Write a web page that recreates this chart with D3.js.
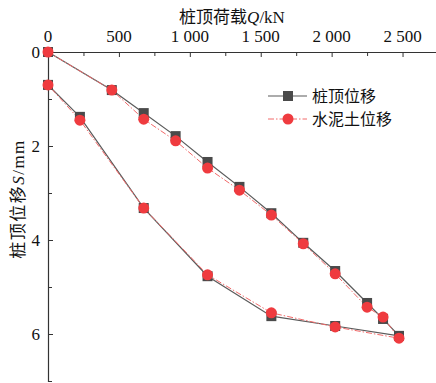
<!DOCTYPE html>
<html>
<head>
<meta charset="utf-8">
<script src="https://cdn.jsdelivr.net/npm/d3@7"></script>
<style>
body{margin:0;background:#fff;}
svg{display:block;font-family:"Liberation Serif","Noto Sans CJK SC",serif;}
</style>
</head>
<body>
<svg id="chart" width="436" height="383"></svg>
<script>
// load Q (kN), loading then unloading
var loadQ = [0,450,675,900,1125,1350,1575,1800,2025,2250,2362.5,2475,2025,1575,1125,675,225,0];
var pileS = [0,0.81,1.30,1.79,2.34,2.87,3.43,4.06,4.66,5.34,5.68,6.04,5.83,5.62,4.77,3.32,1.38,0.70];
var soilS = [0,0.81,1.43,1.89,2.47,2.94,3.47,4.08,4.72,5.43,5.64,6.09,5.85,5.55,4.74,3.32,1.45,0.70];
var xTicks = [0,500,1000,1500,2000,2500];
var yTicks = [0,2,4,6];
var seriesNames = ["桩顶位移","水泥土位移"];

var svg = d3.select("#chart");
var x = d3.scaleLinear().domain([0,2750]).range([48,438]);
var y = d3.scaleLinear().domain([0,7]).range([52,381]);
var axisColor = "#333";

// x axis on top, ticks inward
var xAxis = svg.append("g").attr("transform","translate(0,52)")
  .call(d3.axisTop(x).tickValues(d3.range(0,2751,250)).tickSize(-4).tickFormat(""));
xAxis.select(".domain").attr("stroke",axisColor).attr("stroke-width",1.2);
xAxis.selectAll(".tick line").attr("stroke",axisColor);
xAxis.selectAll(".tick").filter(d => d % 500 == 0).select("line").attr("y2",5);

svg.selectAll(".xlab").data(xTicks).enter().append("text")
  .attr("x",d => x(d)).attr("y",42).attr("text-anchor","middle")
  .attr("font-size",17).attr("fill","#111")
  .text(d => d >= 1000 ? d3.format(",")(d).replace(","," ") : d);

// y axis, ticks inward
var yAxis = svg.append("g").attr("transform","translate(48,0)")
  .call(d3.axisLeft(y).tickValues(d3.range(0,8,1)).tickSize(-4).tickFormat(""));
yAxis.select(".domain").attr("stroke",axisColor).attr("stroke-width",1.2);
yAxis.selectAll(".tick line").attr("stroke",axisColor);
yAxis.selectAll(".tick").filter(d => d % 2 == 0).select("line").attr("x2",5);

svg.selectAll(".ylab").data(yTicks).enter().append("text")
  .attr("x",40).attr("y",d => y(d)+6).attr("text-anchor","end")
  .attr("font-size",17).attr("fill","#111").text(d => d);

// titles
var xt = svg.append("text").attr("x",232).attr("y",23).attr("text-anchor","middle")
  .attr("font-size",17).attr("fill","#111");
xt.append("tspan").text("桩顶荷载");
xt.append("tspan").attr("font-style","italic").text("Q");
xt.append("tspan").text("/kN");

var yt = svg.append("text").attr("transform","translate(24,199) rotate(-90)")
  .attr("text-anchor","middle").attr("font-size",17).attr("letter-spacing",1.5).attr("fill","#111");
yt.append("tspan").text("桩顶位移");
yt.append("tspan").attr("font-style","italic").text("S");
yt.append("tspan").text("/mm");

var line = d3.line().x(d => x(d[0])).y(d => y(d[1]));
var pileData = loadQ.map((q,i) => [q,pileS[i]]);
var soilData = loadQ.map((q,i) => [q,soilS[i]]);

var dark = "#4a4a4a", red = "#ef3b3f";

svg.append("path").attr("d",line(pileData)).attr("fill","none")
  .attr("stroke","#5a5a5a").attr("stroke-width",1.2);
svg.append("path").attr("d",line(soilData)).attr("fill","none")
  .attr("stroke","#f26a6a").attr("stroke-width",1).attr("stroke-dasharray","6,2,1.5,2");

svg.selectAll(".sq").data(pileData).enter().append("rect")
  .attr("x",d => x(d[0])-5).attr("y",d => y(d[1])-5)
  .attr("width",10).attr("height",10).attr("fill",dark);
svg.selectAll(".ci").data(soilData).enter().append("circle")
  .attr("cx",d => x(d[0])).attr("cy",d => y(d[1])).attr("r",5.5).attr("fill",red);

// legend
var lg = svg.append("g");
lg.append("line").attr("x1",268).attr("x2",307).attr("y1",96).attr("y2",96)
  .attr("stroke","#5a5a5a").attr("stroke-width",1.2);
lg.append("rect").attr("x",283).attr("y",91).attr("width",10).attr("height",10).attr("fill",dark);
lg.append("text").attr("x",312).attr("y",102).attr("font-size",16).attr("fill","#111").text(seriesNames[0]);
lg.append("line").attr("x1",268).attr("x2",307).attr("y1",119).attr("y2",119)
  .attr("stroke","#f26a6a").attr("stroke-width",1).attr("stroke-dasharray","6,2,1.5,2");
lg.append("circle").attr("cx",288).attr("cy",119).attr("r",5.5).attr("fill",red);
lg.append("text").attr("x",312).attr("y",125).attr("font-size",16).attr("fill","#111").text(seriesNames[1]);
</script>
</body>
</html>
